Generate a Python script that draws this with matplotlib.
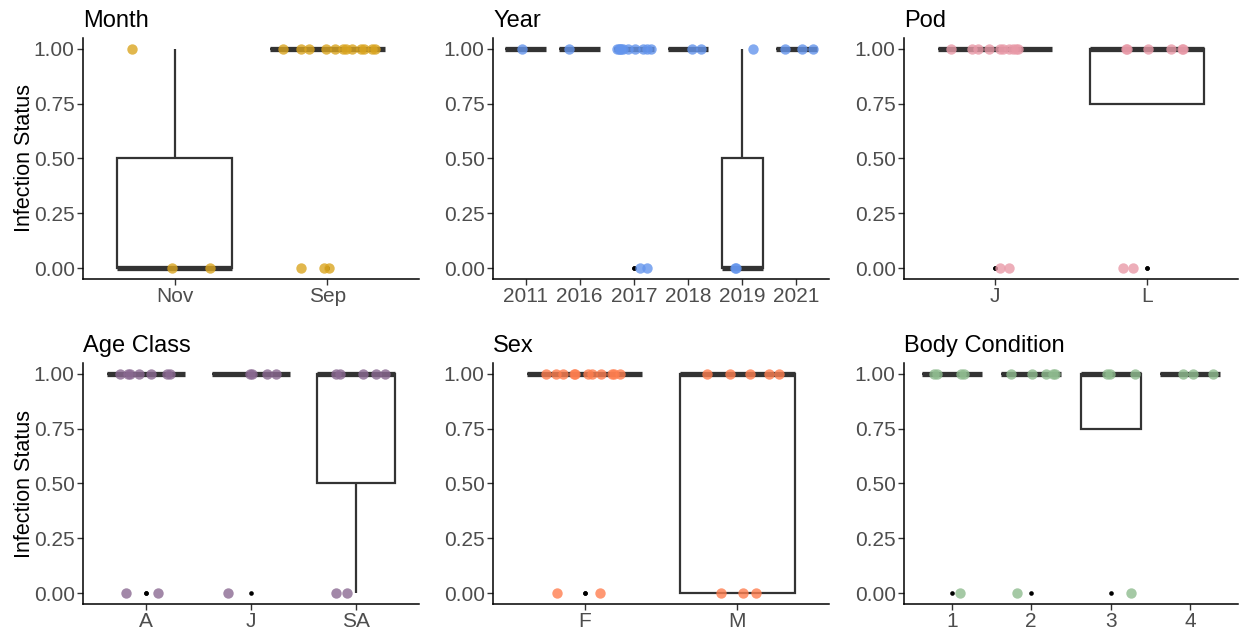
import numpy as np
import matplotlib
matplotlib.use("Agg")
import matplotlib.pyplot as plt
from matplotlib.patches import Rectangle

plt.rcParams['font.family'] = ['Liberation Sans', 'DejaVu Sans']

# ---- data (infection status 0/1 per category, with the jitter offsets)
month_cats = ["Nov", "Sep"]
month_vals = [[1, 0, 0],
              [1]*12 + [0]*3]
month_jit = [[-0.28, -0.02, 0.23],
             [-0.29, -0.17, -0.12, -0.01, 0.05, 0.10, 0.12, 0.16, 0.22, 0.24, 0.29, 0.31, -0.17, -0.02, 0.01]]

year_cats = ["2011", "2016", "2017", "2018", "2019", "2021"]
year_vals = [[1], [1], [1]*10 + [0]*2, [1, 1], [1, 0, 0], [1, 1, 1]]
year_jit = [[-0.07], [-0.20],
            [-0.31, -0.28, -0.26, -0.23, -0.20, -0.11, 0.02, 0.17, 0.24, 0.32, 0.11, 0.25],
            [0.07, 0.24], [0.19, -0.13, -0.12], [-0.21, 0.10, 0.31]]

pod_cats = ["J", "L"]
pod_vals = [[1]*10 + [0]*2, [1]*6 + [0]*2]
pod_jit = [[-0.29, -0.15, -0.11, -0.04, 0.03, 0.05, 0.09, 0.12, 0.14, 0.15, 0.03, 0.09],
           [-0.14, -0.13, 0.01, 0.16, 0.23, 0.24, -0.16, -0.09]]

age_cats = ["A", "J", "SA"]
age_vals = [[1]*7 + [0]*2, [1]*4 + [0], [1]*5 + [0]*2]
age_jit = [[-0.25, -0.17, -0.15, -0.07, 0.05, 0.20, 0.23, -0.19, 0.11],
           [-0.01, 0.01, 0.15, 0.24, -0.22],
           [-0.19, -0.15, 0.07, 0.19, 0.28, -0.19, -0.09]]

sex_cats = ["F", "M"]
sex_vals = [[1]*11 + [0]*2, [1]*5 + [0]*3]
sex_jit = [[-0.25, -0.19, -0.14, -0.07, -0.06, 0.02, 0.05, 0.11, 0.18, 0.19, 0.23, -0.18, 0.10],
           [-0.20, -0.05, 0.08, 0.21, 0.27, -0.11, 0.04, 0.12]]

body_cats = ["1", "2", "3", "4"]
body_vals = [[1]*4 + [0], [1]*5 + [0], [1]*3 + [0], [1]*3]
body_jit = [[-0.22, -0.19, 0.12, 0.15, 0.10],
            [-0.25, 0.01, 0.19, 0.27, 0.30, -0.18],
            [-0.05, -0.01, 0.30, 0.26],
            [-0.09, 0.03, 0.28]]

panels = [
    ("Month", month_cats, month_vals, month_jit, "#DAA520"),
    ("Year", year_cats, year_vals, year_jit, "#6495ED"),
    ("Pod", pod_cats, pod_vals, pod_jit, "#E99AA8"),
    ("Age Class", age_cats, age_vals, age_jit, "#8B6A93"),
    ("Sex", sex_cats, sex_vals, sex_jit, "#FF7F50"),
    ("Body Condition", body_cats, body_vals, body_jit, "#8FBC8F"),
]

W, H = 1239, 634
fig = plt.figure(figsize=(W/100, H/100), dpi=100)

lefts = [83, 493, 904]
widths = [336, 336, 334]
tops = [38, 363]
ph = 241

box_col = "#333333"

def draw_box(ax, x, vals, w=0.75):
    v = np.array(vals, dtype=float)
    q1, med, q3 = np.percentile(v, [25, 50, 75])
    iqr = q3 - q1
    inside = v[(v >= q1 - 1.5*iqr) & (v <= q3 + 1.5*iqr)]
    lo, hi = inside.min(), inside.max()
    out = v[(v < q1 - 1.5*iqr) | (v > q3 + 1.5*iqr)]
    ax.plot([x, x], [q3, hi], color=box_col, lw=1.6, zorder=2, solid_capstyle='butt')
    ax.plot([x, x], [q1, lo], color=box_col, lw=1.6, zorder=2, solid_capstyle='butt')
    ax.add_patch(Rectangle((x - w/2, q1), w, q3 - q1, facecolor="white",
                           edgecolor=box_col, lw=1.6, zorder=3))
    ax.plot([x - w/2, x + w/2], [med, med], color=box_col, lw=3.8, zorder=4,
            solid_capstyle='butt')
    if len(out):
        ax.scatter([x]*len(out), out, s=11, color="black", zorder=5, linewidths=0)

for i, (title, cats, vals, jit, col) in enumerate(panels):
    r, c = divmod(i, 3)
    rect = [lefts[c]/W, 1 - (tops[r] + ph)/H, widths[c]/W, ph/H]
    ax = fig.add_axes(rect)
    for k, (v, j) in enumerate(zip(vals, jit)):
        draw_box(ax, k + 1, v)
        ax.scatter(np.array(j) + k + 1, v, s=56, color=col, alpha=0.8,
                   linewidths=0, zorder=6)
    ax.set_xlim(0.4, len(cats) + 0.6)
    ax.set_ylim(-0.05, 1.05)
    ax.set_xticks(range(1, len(cats) + 1))
    ax.set_xticklabels(cats)
    ax.set_yticks([0, 0.25, 0.5, 0.75, 1.0])
    ax.set_yticklabels(["0.00", "0.25", "0.50", "0.75", "1.00"])
    for s in ["top", "right"]:
        ax.spines[s].set_visible(False)
    for s in ["left", "bottom"]:
        ax.spines[s].set_color("black")
        ax.spines[s].set_linewidth(1.1)
    ax.tick_params(length=4, width=1.0, color="#333333", labelcolor="#4D4D4D",
                   labelsize=15, pad=2)
    ax.set_title(title, loc="left", fontsize=17, pad=8)
    if c == 0:
        ax.set_ylabel("Infection Status", fontsize=15.5, labelpad=-1)

fig.savefig("out.png", dpi=100)
